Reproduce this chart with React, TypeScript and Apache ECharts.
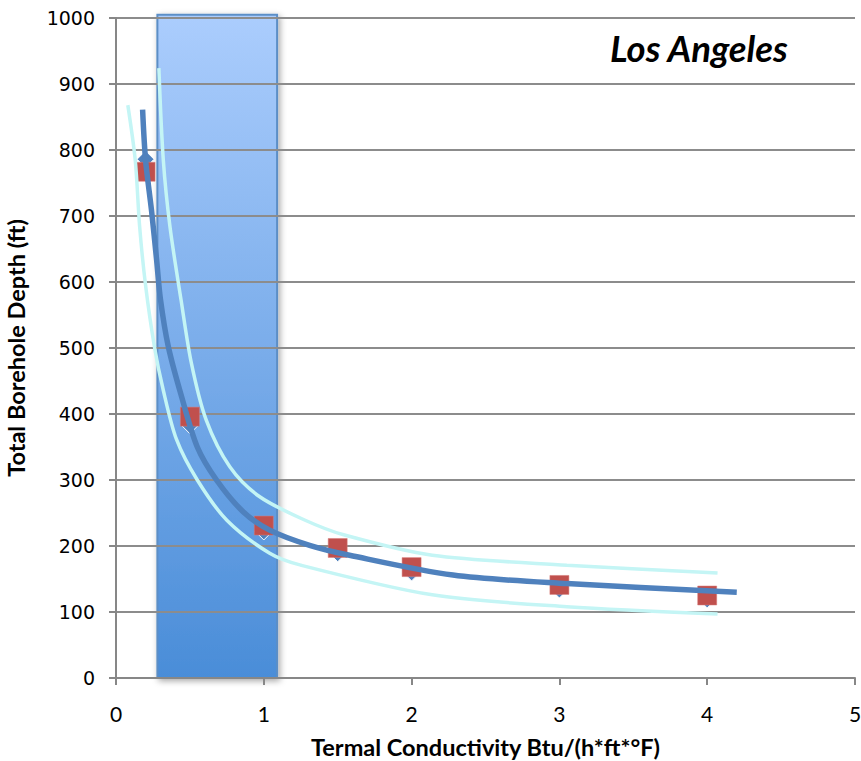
import React, { useEffect, useRef } from "react";
import * as echarts from "echarts";

// Calculated values (blue diamonds) and measured values (red squares)
const conductivity = [0.2, 0.5, 1, 1.5, 2, 3, 4];
const calcDepth = [786, 383, 222, 189, 160, 134, 119];
const measDepth = [767, 396, 231, 197, 168, 141, 125];

// Fitted curve and its upper / lower envelopes
const fitX = [0.18, 0.2, 0.24, 0.275, 0.3, 0.354, 0.444, 0.55, 0.68, 0.86, 1.04, 1.31, 1.58, 2.28, 3.05, 4.2];
const fitY = [861, 785, 709, 633, 575, 502, 426, 350, 300, 252, 224, 201, 186, 156, 143, 130];
const upperX = [0.29, 0.32, 0.365, 0.44, 0.51, 0.61, 0.77, 0.97, 1.28, 1.54, 2.14, 3.05, 4.07];
const upperY = [924, 785, 684, 573, 477, 391, 320, 275, 239, 217, 186, 171, 159];
const lowerX = [0.08, 0.13, 0.16, 0.2, 0.26, 0.32, 0.41, 0.55, 0.75, 1.04, 1.25, 2.14, 3.05, 4.07];
const lowerY = [868, 785, 684, 595, 502, 436, 361, 300, 239, 189, 171, 126, 108, 97];

// Highlighted conductivity band
const bandRange = [0.28, 1.09];
const bandTop = 1005;

const xTicks = [0, 1, 2, 3, 4, 5];
const yTicks = [0, 100, 200, 300, 400, 500, 600, 700, 800, 900, 1000];

const zip = (xs: number[], ys: number[]) => xs.map((x, i) => [x, ys[i]]);

export default function App() {
  const ref = useRef<HTMLDivElement>(null);
  useEffect(() => {
    if (!ref.current) return;
    const chart = echarts.init(ref.current, undefined, { renderer: "svg" });
    const axisColor = "#878787";
    chart.setOption({
      animation: false,
      grid: { left: 116, right: 6, top: 18, bottom: 83, containLabel: false, outerBoundsMode: "none" },
      xAxis: {
        type: "value",
        min: xTicks[0],
        max: xTicks[xTicks.length - 1],
        interval: 1,
        name: "Termal Conductivity Btu/(h*ft*°F)",
        nameLocation: "middle",
        nameGap: 57,
        nameTextStyle: { fontFamily: "Lato", fontWeight: "bold", fontSize: 23.5, color: "#000" },
        axisLine: { lineStyle: { color: axisColor, width: 2 } },
        axisTick: { show: true, length: 7, lineStyle: { color: axisColor, width: 2 } },
        axisLabel: { margin: 25, fontFamily: "Lato", fontSize: 21, color: "#000" },
        splitLine: { show: false },
      },
      yAxis: {
        type: "value",
        min: yTicks[0],
        max: yTicks[yTicks.length - 1],
        interval: 100,
        name: "Total Borehole Depth (ft)",
        nameLocation: "middle",
        nameGap: 88,
        nameRotate: 90,
        nameTextStyle: { fontFamily: "Lato", fontWeight: "bold", fontSize: 23.5, color: "#000" },
        axisLine: { show: true, lineStyle: { color: axisColor, width: 2 } },
        axisTick: { show: true, length: 7, lineStyle: { color: axisColor, width: 2 } },
        axisLabel: {
          margin: 21,
          fontFamily: "DejaVu Sans",
          fontSize: 19,
          color: "#000",
          formatter: (v: number) => String(v),
        },
        splitLine: { show: true, lineStyle: { color: "#8c8c8c", width: 2 } },
      },
      graphic: [
        {
          type: "text",
          left: 610,
          top: 29,
          style: {
            text: "Los Angeles",
            fontFamily: "Lato",
            fontStyle: "italic",
            fontWeight: "bold",
            fontSize: 36.5,
            fill: "#000",
          },
        },
      ],
      series: [
        {
          type: "custom",
          z: -1,
          silent: true,
          data: [[bandRange[0], 0, bandRange[1], bandTop]],
          encode: { x: [0, 2], y: [1, 3] },
          renderItem: (params: any, api: any) => {
            const p0 = api.coord([api.value(0), api.value(3)]);
            const p1 = api.coord([api.value(2), api.value(1)]);
            return {
              type: "rect",
              shape: { x: p0[0], y: p0[1], width: p1[0] - p0[0], height: p1[1] - p0[1] },
              style: {
                fill: new echarts.graphic.LinearGradient(0, 0, 0, 1, [
                  { offset: 0, color: "#abcdfd" },
                  { offset: 1, color: "#4a8dd8" },
                ]),
                stroke: "#5b8ec6",
                lineWidth: 2,
                shadowBlur: 6,
                shadowOffsetX: 2,
                shadowOffsetY: 2,
                shadowColor: "rgba(0,0,0,0.35)",
              },
            };
          },
        },
        {
          name: "Calculated",
          type: "scatter",
          z: 3,
          symbol: "diamond",
          symbolSize: 17,
          itemStyle: { color: "#4f81bd", borderColor: "#ffffff", borderWidth: 1, opacity: 1 },
          data: zip(conductivity, calcDepth),
        },
        {
          name: "Measured",
          type: "scatter",
          z: 4,
          symbol: "rect",
          symbolSize: 19,
          itemStyle: { color: "#c0504d", borderColor: "#d77a78", borderWidth: 0.5, opacity: 1 },
          data: zip(conductivity, measDepth),
        },
        {
          name: "Upper",
          type: "line",
          z: 5,
          smooth: 0.3,
          showSymbol: false,
          lineStyle: { color: "#c4f5f5", width: 3.5 },
          data: zip(upperX, upperY),
        },
        {
          name: "Lower",
          type: "line",
          z: 5,
          smooth: 0.3,
          showSymbol: false,
          lineStyle: { color: "#c4f5f5", width: 3.5 },
          data: zip(lowerX, lowerY),
        },
        {
          name: "Fit",
          type: "line",
          z: 6,
          smooth: 0.3,
          showSymbol: false,
          lineStyle: { color: "#4f81bd", width: 5.5 },
          data: zip(fitX, fitY),
        },
      ],
    });
    return () => chart.dispose();
  }, []);
  return (
    <div
      ref={ref}
      style={{ position: "fixed", left: 0, top: 0, width: 861, height: 761, background: "#fff" }}
    />
  );
}
